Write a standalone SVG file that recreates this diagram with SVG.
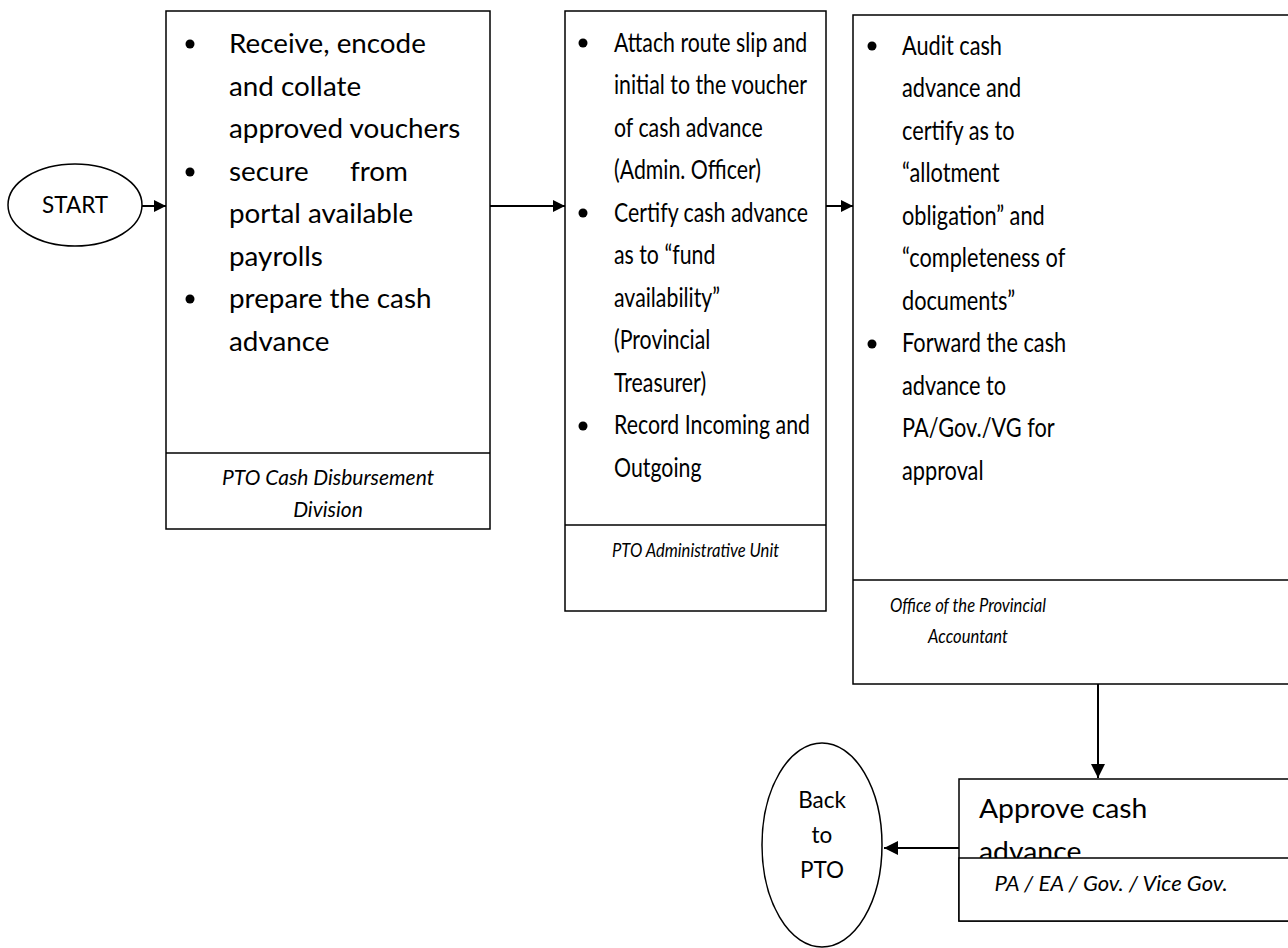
<svg xmlns="http://www.w3.org/2000/svg" width="1288" height="948" viewBox="0 0 1288 948">
<defs>
<style>
.box{fill:#fff;stroke:#000;stroke-width:1.5}
.t{font-family:Lato,"Open Sans",sans-serif;font-size:26px;fill:#000}
.f{font-family:Lato,"Open Sans",sans-serif;font-size:20px;font-style:italic;fill:#000;text-anchor:middle}
.o{font-family:Lato,"Open Sans",sans-serif;font-size:22.5px;fill:#000;text-anchor:middle}
.c{stroke:#000;stroke-width:2;fill:none}
</style>
<marker id="ah" viewBox="0 0 10 10" refX="10" refY="5" markerWidth="6" markerHeight="6" markerUnits="strokeWidth" orient="auto">
<path d="M0,0 L10,5 L0,10 Z" fill="#000"/>
</marker>
<marker id="ahl" viewBox="0 0 10 10" refX="10" refY="5" markerWidth="7" markerHeight="7" markerUnits="strokeWidth" orient="auto">
<path d="M0,0 L10,5 L0,10 Z" fill="#000"/>
</marker>
</defs>
<rect width="1288" height="948" fill="#fff"/>

<g id="start">
<ellipse cx="75" cy="205" rx="67" ry="41" fill="#fff" stroke="#000" stroke-width="1.5"/>
<text class="o" x="75" y="213">START</text>
</g>

<g id="box1">
<rect class="box" x="166" y="11" width="324" height="518"/>
<line x1="166" y1="453" x2="490" y2="453" stroke="#000" stroke-width="1.5"/>
<circle cx="190" cy="44" r="4.5"/><circle cx="190" cy="172" r="4.5"/><circle cx="190" cy="299" r="4.5"/>
<g transform="translate(229,0) scale(1.07,1)">
<text class="t" x="0" y="53">Receive, encode</text>
<text class="t" x="0" y="96">and collate</text>
<text class="t" x="0" y="138">approved vouchers</text>
<text class="t" x="0" y="181">secure<tspan x="113">from</tspan></text>
<text class="t" x="0" y="223">portal available</text>
<text class="t" x="0" y="266">payrolls</text>
<text class="t" x="0" y="308">prepare the cash</text>
<text class="t" x="0" y="351">advance</text>
</g>
<text class="f" x="328" y="485" style="font-size:21px">PTO Cash Disbursement</text>
<text class="f" x="328" y="517" style="font-size:21px">Division</text>
</g>

<g id="box2">
<rect class="box" x="565" y="11" width="261" height="600"/>
<line x1="565" y1="525" x2="826" y2="525" stroke="#000" stroke-width="1.5"/>
<circle cx="583" cy="43" r="4.5"/><circle cx="583" cy="213" r="4.5"/><circle cx="583" cy="426" r="4.5"/>
<g transform="translate(614,0) scale(0.82,1)">
<text class="t" x="0" y="52">Attach route slip and</text>
<text class="t" x="0" y="94.5">initial to the voucher</text>
<text class="t" x="0" y="137">of cash advance</text>
<text class="t" x="0" y="179.5">(Admin. Officer)</text>
<text class="t" x="0" y="222">Certify cash advance</text>
<text class="t" x="0" y="264.5">as to “fund</text>
<text class="t" x="0" y="307">availability”</text>
<text class="t" x="0" y="349.5">(Provincial</text>
<text class="t" x="0" y="392">Treasurer)</text>
<text class="t" x="0" y="434.5">Record Incoming and</text>
<text class="t" x="0" y="477">Outgoing</text>
</g>
<g transform="translate(695.5,0) scale(0.83,1)">
<text class="f" x="0" y="557">PTO Administrative Unit</text>
</g>
</g>

<g id="box3">
<rect class="box" x="853" y="15" width="445" height="669"/>
<line x1="853" y1="580" x2="1298" y2="580" stroke="#000" stroke-width="1.5"/>
<circle cx="872" cy="46" r="4.5"/><circle cx="872" cy="344" r="4.5"/>
<g transform="translate(902,0) scale(0.836,1)">
<text class="t" x="0" y="55">Audit cash</text>
<text class="t" x="0" y="97.5">advance and</text>
<text class="t" x="0" y="140">certify as to</text>
<text class="t" x="0" y="182.5">“allotment</text>
<text class="t" x="0" y="225">obligation” and</text>
<text class="t" x="0" y="267.5">“completeness of</text>
<text class="t" x="0" y="310">documents”</text>
<text class="t" x="0" y="352.5">Forward the cash</text>
<text class="t" x="0" y="395">advance to</text>
<text class="t" x="0" y="437.5">PA/Gov./VG for</text>
<text class="t" x="0" y="480">approval</text>
</g>
<g transform="translate(968,0) scale(0.83,1)">
<text class="f" x="0" y="612">Office of the Provincial</text>
<text class="f" x="0" y="643">Accountant</text>
</g>
</g>

<g id="box4">
<rect class="box" x="959" y="779" width="339" height="142"/>
<g transform="translate(979,0) scale(1.09,1)">
<text class="t" x="0" y="818">Approve cash</text>
<text class="t" x="0" y="861">advance</text>
</g>
<rect x="959" y="858" width="339" height="63" fill="#fff" stroke="#000" stroke-width="1.5"/>
<text class="f" x="1111" y="891" style="font-size:22px">PA / EA / Gov. / Vice Gov.</text>
</g>

<g id="back">
<ellipse cx="822" cy="845" rx="60" ry="102" fill="#fff" stroke="#000" stroke-width="1.5"/>
<text class="o" x="822" y="808">Back</text>
<text class="o" x="822" y="843">to</text>
<text class="o" x="822" y="878">PTO</text>
</g>

<g id="connectors">
<line class="c" x1="142" y1="206" x2="166" y2="206" marker-end="url(#ah)"/>
<line class="c" x1="490" y1="206" x2="565" y2="206" marker-end="url(#ah)"/>
<line class="c" x1="826" y1="206" x2="853" y2="206" marker-end="url(#ah)"/>
<line class="c" x1="1098" y1="684" x2="1098" y2="778" marker-end="url(#ahl)"/>
<line class="c" x1="959" y1="848" x2="884" y2="848" marker-end="url(#ahl)"/>
</g>
</svg>
